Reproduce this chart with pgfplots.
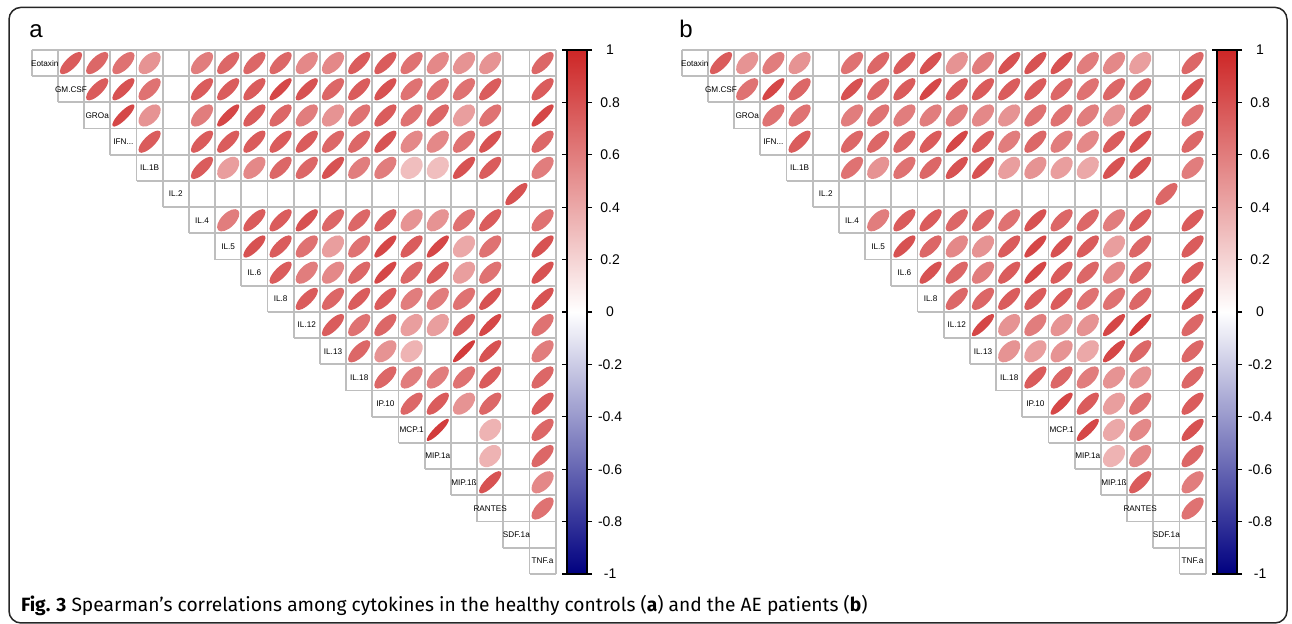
\documentclass[border=0pt]{standalone}
\usepackage{pgfplots}
\pgfplotsset{compat=1.18}
\usepackage{pgfplotstable}
\usepackage{fontspec}
\setmainfont{Liberation Sans}
\newfontfamily\capfont{Fira Sans}

\definecolor{gridgrey}{RGB}{190,190,190}
\pgfplotsset{
  colormap={corrmap}{rgb255(0cm)=(0,0,128); rgb255(1cm)=(255,255,255); rgb255(2cm)=(205,38,38)},
}

% corrplot-like ellipse: semi axes ~ sqrt(1+r) and sqrt(1-r) along the diagonals
\pgfdeclareplotmark{correll}{%
  \pgfpathellipse{\pgfpointorigin}{\pgfpoint{\ella pt}{\ella pt}}{\pgfpoint{-\ellb pt}{\ellb pt}}%
  \pgfusepathqfill}

% healthy controls
\pgfplotstableread{
row col r
1 2 0.75
1 3 0.70
1 4 0.65
1 5 0.50
1 7 0.60
1 8 0.70
1 9 0.70
1 10 0.70
1 11 0.55
1 12 0.55
1 13 0.75
1 14 0.75
1 15 0.65
1 16 0.55
1 17 0.50
1 18 0.50
1 20 0.70
2 3 0.75
2 4 0.80
2 5 0.65
2 7 0.75
2 8 0.75
2 9 0.75
2 10 0.85
2 11 0.80
2 12 0.70
2 13 0.75
2 14 0.80
2 15 0.65
2 16 0.65
2 17 0.65
2 18 0.75
2 20 0.75
3 4 0.85
3 5 0.50
3 7 0.60
3 8 0.85
3 9 0.75
3 10 0.70
3 11 0.60
3 12 0.50
3 13 0.65
3 14 0.75
3 15 0.65
3 16 0.70
3 17 0.45
3 18 0.65
3 20 0.85
4 5 0.75
4 7 0.75
4 8 0.75
4 9 0.75
4 10 0.75
4 11 0.75
4 12 0.70
4 13 0.70
4 14 0.80
4 15 0.55
4 16 0.55
4 17 0.65
4 18 0.80
4 20 0.70
5 7 0.75
5 8 0.45
5 9 0.55
5 10 0.70
5 11 0.70
5 12 0.80
5 13 0.60
5 14 0.60
5 15 0.30
5 16 0.30
5 17 0.80
5 18 0.75
5 20 0.60
6 19 0.80
7 8 0.60
7 9 0.75
7 10 0.75
7 11 0.80
7 12 0.70
7 13 0.70
7 14 0.75
7 15 0.50
7 16 0.50
7 17 0.65
7 18 0.75
7 20 0.65
8 9 0.80
8 10 0.75
8 11 0.65
8 12 0.45
8 13 0.65
8 14 0.85
8 15 0.75
8 16 0.85
8 17 0.40
8 18 0.65
8 20 0.80
9 10 0.75
9 11 0.60
9 12 0.55
9 13 0.70
9 14 0.85
9 15 0.70
9 16 0.75
9 17 0.45
9 18 0.65
9 20 0.80
10 11 0.75
10 12 0.70
10 13 0.75
10 14 0.75
10 15 0.60
10 16 0.60
10 17 0.65
10 18 0.80
10 20 0.80
11 12 0.75
11 13 0.65
11 14 0.70
11 15 0.45
11 16 0.45
11 17 0.75
11 18 0.85
11 20 0.65
12 13 0.70
12 14 0.50
12 15 0.35
12 17 0.90
12 18 0.80
12 20 0.60
13 14 0.70
13 15 0.60
13 16 0.60
13 17 0.65
13 18 0.75
13 20 0.70
14 15 0.70
14 16 0.75
14 17 0.50
14 18 0.70
14 20 0.75
15 16 0.90
15 18 0.35
15 20 0.70
16 18 0.35
16 20 0.70
17 18 0.80
17 20 0.55
18 20 0.65
}\corrA

% AE patients
\pgfplotstableread{
row col r
1 2 0.75
1 3 0.50
1 4 0.60
1 5 0.50
1 7 0.65
1 8 0.70
1 9 0.75
1 10 0.80
1 11 0.50
1 12 0.60
1 13 0.80
1 14 0.80
1 15 0.80
1 16 0.60
1 17 0.55
1 18 0.45
1 20 0.70
2 3 0.65
2 4 0.85
2 5 0.70
2 7 0.80
2 8 0.70
2 9 0.75
2 10 0.85
2 11 0.75
2 12 0.75
2 13 0.75
2 14 0.75
2 15 0.70
2 16 0.65
2 17 0.70
2 18 0.70
2 20 0.80
3 4 0.65
3 5 0.65
3 7 0.60
3 8 0.65
3 9 0.60
3 10 0.60
3 11 0.60
3 12 0.55
3 13 0.50
3 14 0.65
3 15 0.65
3 16 0.60
3 17 0.50
3 18 0.70
3 20 0.65
4 5 0.75
4 7 0.70
4 8 0.70
4 9 0.70
4 10 0.75
4 11 0.85
4 12 0.75
4 13 0.60
4 14 0.70
4 15 0.60
4 16 0.55
4 17 0.75
4 18 0.80
4 20 0.70
5 7 0.65
5 8 0.50
5 9 0.65
5 10 0.70
5 11 0.80
5 12 0.80
5 13 0.45
5 14 0.50
5 15 0.45
5 16 0.40
5 17 0.80
5 18 0.80
5 20 0.60
6 19 0.70
7 8 0.60
7 9 0.75
7 10 0.75
7 11 0.70
7 12 0.70
7 13 0.65
7 14 0.80
7 15 0.70
7 16 0.70
7 17 0.60
7 18 0.75
7 20 0.75
8 9 0.80
8 10 0.70
8 11 0.55
8 12 0.50
8 13 0.75
8 14 0.85
8 15 0.80
8 16 0.75
8 17 0.45
8 18 0.70
8 20 0.75
9 10 0.80
9 11 0.70
9 12 0.60
9 13 0.75
9 14 0.85
9 15 0.75
9 16 0.70
9 17 0.55
9 18 0.70
9 20 0.75
10 11 0.70
10 12 0.70
10 13 0.75
10 14 0.75
10 15 0.75
10 16 0.65
10 17 0.65
10 18 0.70
10 20 0.80
11 12 0.85
11 13 0.50
11 14 0.60
11 15 0.50
11 16 0.50
11 17 0.85
11 18 0.90
11 20 0.70
12 13 0.50
12 14 0.45
12 15 0.50
12 16 0.40
12 17 0.85
12 18 0.70
12 20 0.70
13 14 0.75
13 15 0.70
13 16 0.60
13 17 0.50
13 18 0.50
13 20 0.70
14 15 0.85
14 16 0.75
14 17 0.45
14 18 0.65
14 20 0.75
15 16 0.85
15 17 0.40
15 18 0.55
15 20 0.80
16 17 0.35
16 18 0.55
16 20 0.70
17 18 0.75
17 20 0.60
18 20 0.65
}\corrB

\pgfplotsset{
  corrpanel/.style={
    anchor=south west, scale only axis, width=262pt, height=262pt,
    xmin=0.5, xmax=20.5, ymin=-20.5, ymax=-0.5,
    hide axis, clip=false,
    colormap name=corrmap, point meta min=-1, point meta max=1,
    colorbar,
    colorbar style={
      at={(parent axis.north east)}, anchor=north west, xshift=-2.85pt,
      width=10pt,
      axis line style={line width=0.9pt},
      ytick={-1,-0.8,-0.6,-0.4,-0.2,0,0.2,0.4,0.6,0.8,1},
      yticklabels={-1,-0.8,-0.6,-0.4,-0.2,0,0.2,0.4,0.6,0.8,1},
      tick align=outside, major tick length=2.5pt,
      tick style={black, line width=0.6pt},
      yticklabel style={font=\fontsize{7}{8}\selectfont, anchor=center, xshift=9pt},
    },
  },
  corrscatter/.style={
    scatter, only marks, mark=correll,
    point meta=\thisrow{r},
    visualization depends on={\thisrow{r} \as \rr},
    scatter/@pre marker code/.append code={%
      \pgfmathsetmacro\ella{3.937*sqrt(1+\rr)}%
      \pgfmathsetmacro\ellb{3.937*sqrt(1-\rr)}%
    },
  },
}

\newcommand\ifnlabel{IFN...}
\newcommand\corrgrid[1]{%
  \begin{scope}[shift={(#1,293.55pt)}, x=13.1pt, y=13.1pt]
    \draw[gridgrey, line width=0.9pt] (0.5,-0.5) -- (20.5,-0.5);
    \foreach \k in {1,...,20}
      \draw[gridgrey, line width=0.9pt] (\k-0.5,-\k-0.5) -- (20.5,-\k-0.5);
    \foreach \c in {0,...,19}
      \draw[gridgrey, line width=0.9pt] (\c+0.5,-0.5) -- (\c+0.5,-\c-1.5);
    \draw[gridgrey, line width=0.9pt] (20.5,-0.5) -- (20.5,-20.5);
    \foreach \n [count=\i] in {Eotaxin,GM.CSF,GROa,\ifnlabel,IL.1B,IL.2,IL.4,IL.5,IL.6,IL.8,
        IL.12,IL.13,IL.18,IP.10,MCP.1,MIP.1a,MIP.1ß,RANTES,SDF.1a,TNF.a}
      \node[font=\fontsize{4.1}{5}\selectfont, inner sep=0] at (\i,-\i) {\n};
  \end{scope}}

\begin{document}
\begin{tikzpicture}
\path[use as bounding box] (0,0) rectangle (646pt,312pt);
\draw[black!85, line width=0.75pt, rounded corners=6pt] (4.5pt,0.5pt) rectangle (643.5pt,308.3pt);

\corrgrid{9.3pt}
\corrgrid{334.3pt}

\begin{axis}[corrpanel, at={(15.85pt,25pt)}]
  \addplot[corrscatter] table[x=col, y expr=-\thisrow{row}] {\corrA};
\end{axis}

\begin{axis}[corrpanel, at={(340.85pt,25pt)}]
  \addplot[corrscatter] table[x=col, y expr=-\thisrow{row}] {\corrB};
\end{axis}

\node[anchor=base west, inner sep=0, font=\fontsize{12}{14}\selectfont] at (14.5pt,293pt) {a};
\node[anchor=base west, inner sep=0, font=\fontsize{12}{14}\selectfont] at (339.5pt,293pt) {b};

\node[anchor=base west, inner sep=0, font=\capfont\fontsize{9.6}{11}\selectfont] at (10.3pt,6pt)
  {\textbf{Fig. 3} Spearman’s correlations among cytokines in the healthy controls (\textbf{a}) and the AE patients (\textbf{b})};
\end{tikzpicture}
\end{document}
